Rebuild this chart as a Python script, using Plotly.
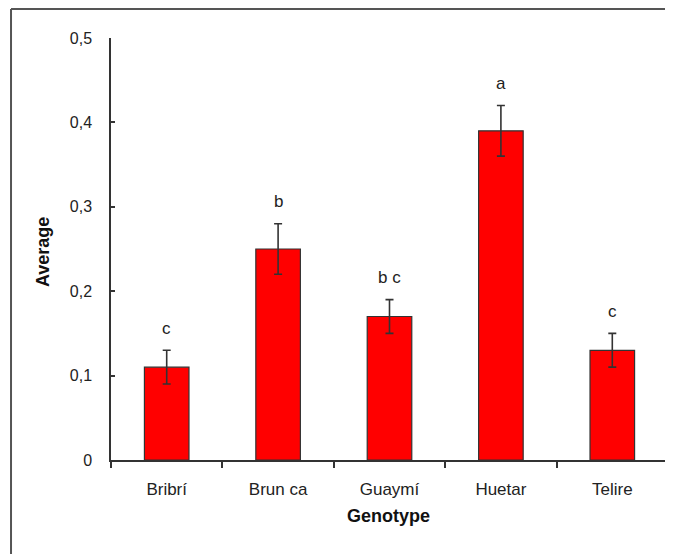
import plotly.graph_objects as go

categories = ["Bribrí", "Brun ca", "Guaymí", "Huetar", "Telire"]
averages = [0.11, 0.25, 0.17, 0.39, 0.13]
errors = [0.02, 0.03, 0.02, 0.03, 0.02]
letters = ["c", "b", "b c", "a", "c"]
y_ticks = [0, 0.1, 0.2, 0.3, 0.4, 0.5]
y_tick_labels = ["0", "0,1", "0,2", "0,3", "0,4", "0,5"]

FONT = "Liberation Sans, Arial, sans-serif"
AX = "#333333"

fig = go.Figure()
fig.add_trace(go.Bar(
    x=categories, y=averages, width=0.4,
    marker=dict(color="#FF0000", line=dict(color="#333333", width=1.2)),
    error_y=dict(type="data", array=errors, visible=True, color="#333333",
                 thickness=1.6, width=4),
    showlegend=False,
))

for c, v, e, t in zip(categories, averages, errors, letters):
    fig.add_annotation(x=c, y=v + e, text=t, showarrow=False, xref="x", yref="y",
                       yanchor="middle", yshift=22,
                       font=dict(family=FONT, size=17, color="#222222"))

fig.add_annotation(x=-0.122, y=0.493, xref="paper", yref="paper", text="<b>Average</b>",
                   textangle=-90, showarrow=False, xanchor="center", yanchor="middle",
                   font=dict(family=FONT, size=18, color="#111111"))
fig.add_annotation(x=0.499, y=-0.133, xref="paper", yref="paper", text="<b>Genotype</b>",
                   showarrow=False, xanchor="center", yanchor="middle",
                   font=dict(family=FONT, size=18, color="#111111"))

# outer frame
fig.add_shape(type="line", xref="paper", yref="paper", x0=-0.1795, x1=-0.1795,
              y0=1.0687, y1=-0.3, line=dict(color="#555555", width=2))
fig.add_shape(type="line", xref="paper", yref="paper", x0=-0.1795, x1=1.05,
              y0=1.0687, y1=1.0687, line=dict(color="#555555", width=2))

fig.update_layout(
    width=673, height=554,
    margin=dict(l=103, r=13, t=30, b=102),
    paper_bgcolor="white", plot_bgcolor="white",
    font=dict(family=FONT, size=16, color="#222222"),
    bargap=0.6,
)
fig.update_xaxes(
    type="category", showline=True, linecolor=AX, linewidth=1.5,
    ticks="outside", ticklen=6, tickwidth=1.5, tickcolor=AX, tickson="boundaries",
    showgrid=False, tickfont=dict(family=FONT, size=17, color="#222222"),
    ticklabelstandoff=13,
)
fig.update_yaxes(
    range=[0, 0.5], tickvals=y_ticks, ticktext=y_tick_labels,
    showline=True, linecolor=AX, linewidth=1.5,
    ticks="inside", ticklen=4, tickwidth=1.5, tickcolor=AX,
    showgrid=False, zeroline=False, tickfont=dict(family=FONT, size=16, color="#222222"),
    ticklabelstandoff=14,
)
fig.write_html("out.html")
